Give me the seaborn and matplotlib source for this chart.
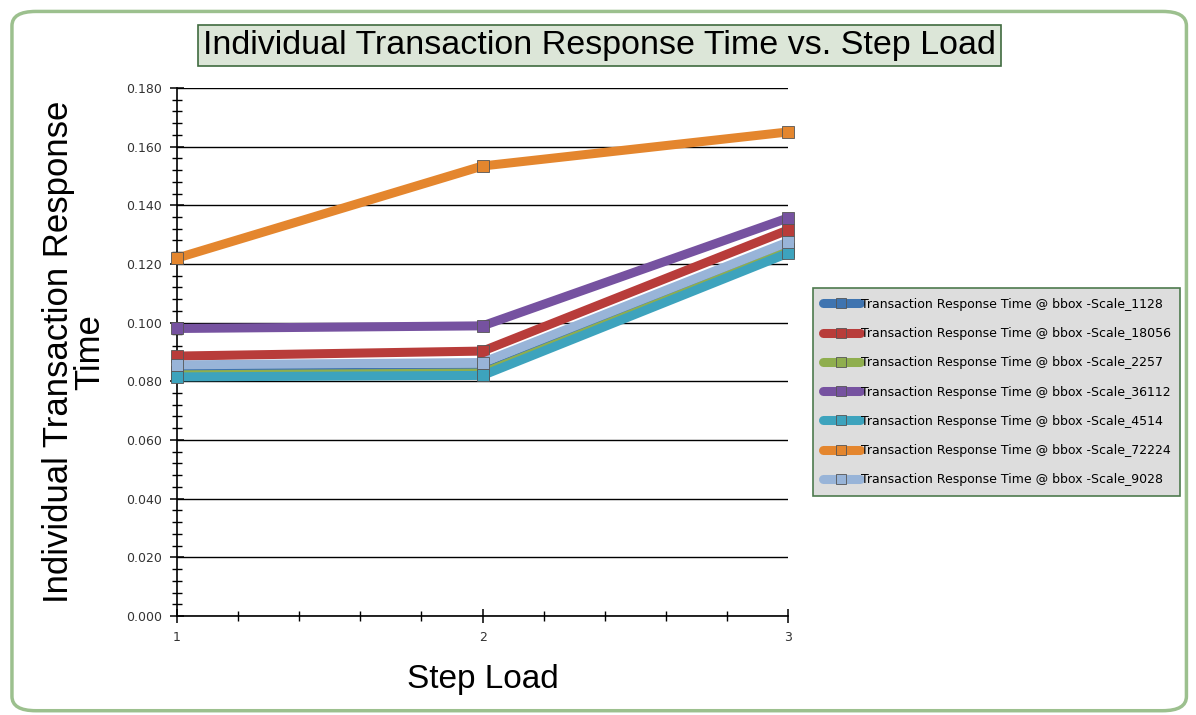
import matplotlib
matplotlib.use("Agg")
import matplotlib.pyplot as plt
from matplotlib.patches import FancyBboxPatch
from matplotlib.ticker import MultipleLocator, FormatStrFormatter
import seaborn as sns
import pandas as pd

# data
STEPS = [1, 2, 3]
SERIES = ["1128", "18056", "2257", "36112", "4514", "72224", "9028"]
SCALE_1128 = [0.0830, 0.0832, 0.1250]
SCALE_18056 = [0.0886, 0.0903, 0.1316]
SCALE_2257 = [0.0822, 0.0828, 0.1243]
SCALE_36112 = [0.0980, 0.0989, 0.1357]
SCALE_4514 = [0.0815, 0.0820, 0.1237]
SCALE_72224 = [0.1220, 0.1534, 0.1650]
SCALE_9028 = [0.0856, 0.0864, 0.1275]
COLORS = ["#3F74B0", "#B83C3A", "#8FAE4E", "#7652A0", "#3DA3BD", "#E4862E", "#98B4D8"]

values = [SCALE_1128, SCALE_18056, SCALE_2257, SCALE_36112, SCALE_4514, SCALE_72224, SCALE_9028]
labels = [f"Transaction Response Time @ bbox -Scale_{s}" for s in SERIES]
rows = []
for lab, vals in zip(labels, values):
    for x, v in zip(STEPS, vals):
        rows.append({"step": x, "time": v, "series": lab})
df = pd.DataFrame(rows)

sns.set_style("white")
plt.rcParams['font.family'] = ['Liberation Sans', 'DejaVu Sans']
plt.rcParams['text.color'] = 'black'
plt.rcParams['axes.labelcolor'] = 'black'

fig = plt.figure(figsize=(11.96, 7.15), dpi=100)
fig.patch.set_facecolor("white")

# rounded outer frame
frame = FancyBboxPatch((0.010, 0.006), 0.982, 0.978, boxstyle="round,pad=0,rounding_size=0.02",
                       transform=fig.transFigure, facecolor="none", edgecolor="#9CC08E",
                       linewidth=2.5, zorder=-1)
fig.patches.append(frame)

ax = fig.add_axes([0.148, 0.1385, 0.511, 0.7385])
ax.patch.set_alpha(0)
sns.lineplot(data=df, x="step", y="time", hue="series", palette=dict(zip(labels, COLORS)),
             marker="s", markersize=9, linewidth=6.5, markeredgecolor="#555555", markeredgewidth=0.6,
             ax=ax, legend=True, clip_on=False, zorder=3)

ax.set_xlim(1, 3)
ax.set_ylim(0, 0.18)
ax.xaxis.set_major_locator(MultipleLocator(1))
ax.xaxis.set_minor_locator(MultipleLocator(0.2))
ax.yaxis.set_major_locator(MultipleLocator(0.02))
ax.yaxis.set_minor_locator(MultipleLocator(0.004))
ax.yaxis.set_major_formatter(FormatStrFormatter("%.3f"))
ax.grid(axis="y", which="major", color="black", linewidth=1.0)
ax.set_axisbelow(True)
for s in ["top", "right"]:
    ax.spines[s].set_visible(False)
for s in ["left", "bottom"]:
    ax.spines[s].set_color("black")
    ax.spines[s].set_linewidth(1.2)
ax.tick_params(axis="both", which="major", direction="inout", length=10, width=1.1, color="black",
               labelsize=9, labelcolor="#333333", pad=6, bottom=True, left=True)
ax.tick_params(axis="both", which="minor", direction="inout", length=7, width=1.0, color="black",
               bottom=True, left=True)
for t in ax.get_xticklabels() + ax.get_yticklabels():
    t.set_family("DejaVu Sans")

ax.set_xlabel("Step Load", fontsize=24, labelpad=14)
ax.set_ylabel("Individual Transaction Response\nTime", fontsize=25, labelpad=14, linespacing=0.95)

leg = ax.legend(loc="center left", bbox_to_anchor=(1.041, 0.424), frameon=True,
                facecolor="#DDDDDD", edgecolor="#4E7A4E", framealpha=1, fancybox=False,
                handlelength=3.0, handletextpad=0.05, labelspacing=1.3, borderpad=0.75,
                borderaxespad=0, markerscale=0.75,
                prop={"family": "DejaVu Sans", "size": 9.0})
leg.get_frame().set_linewidth(1.2)

fig.text(0.501, 0.936, "Individual Transaction Response Time vs. Step Load", ha="center", va="center",
         fontsize=24.5, family=["Liberation Sans Narrow", "Liberation Sans"],
         bbox=dict(boxstyle="square,pad=0.15", facecolor="#DCE6D8", edgecolor="#3F6B3F", linewidth=1.2))

fig.savefig("out.png", dpi=100)
